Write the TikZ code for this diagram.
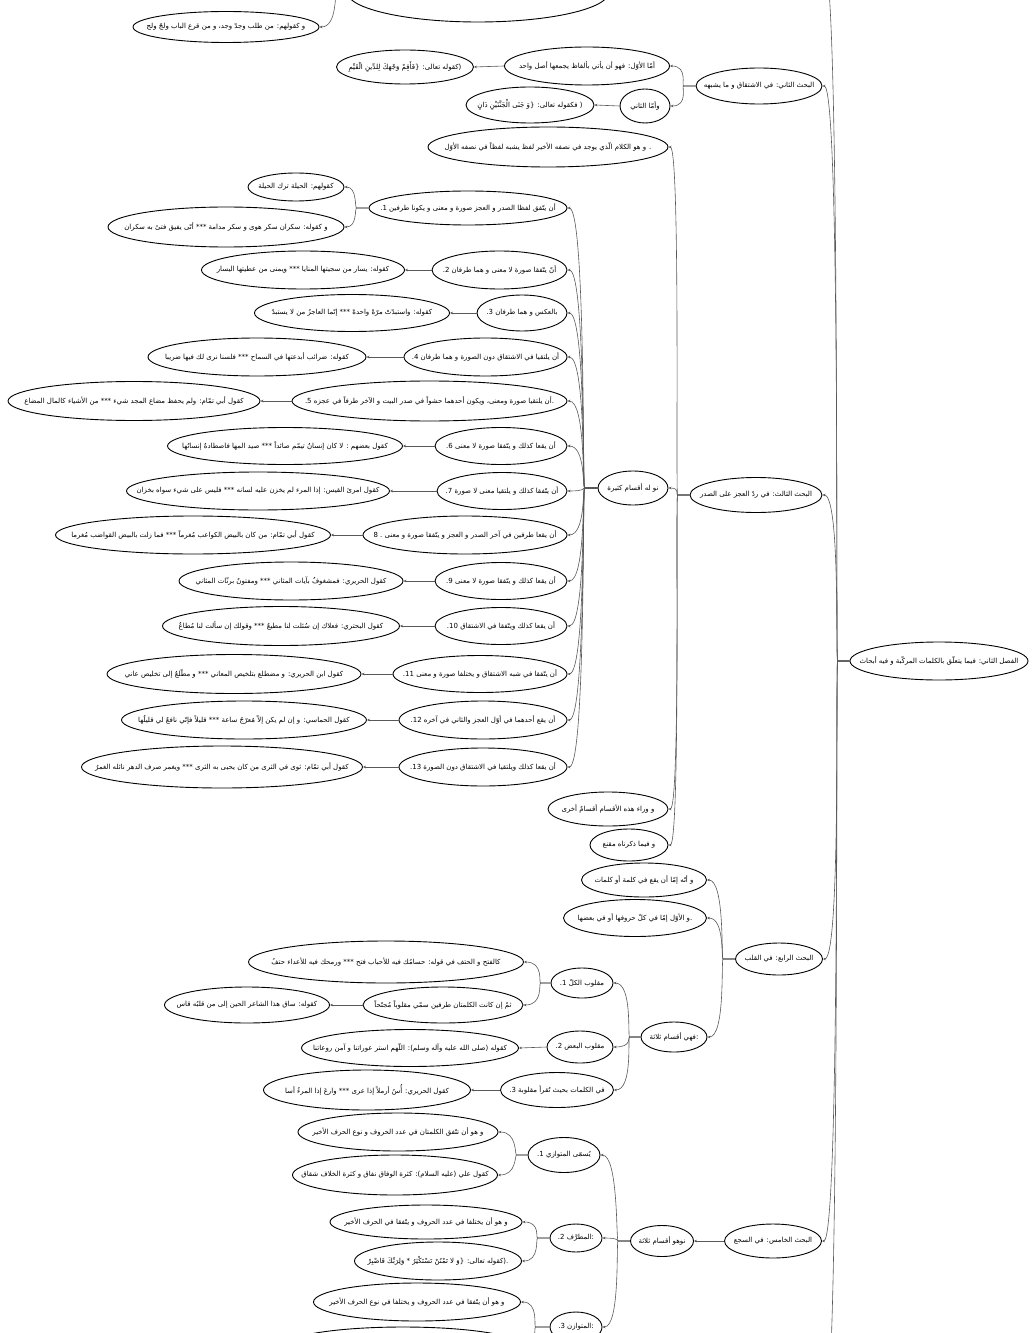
\documentclass[tikz,border=0pt]{standalone}
\usepackage{fontspec}
\newfontfamily\arabicfont[Script=Arabic]{DejaVu Sans}
\TeXXeTstate=1
\usetikzlibrary{arrows.meta,shapes.geometric}

\def\ar#1{\makebox[0pt]{\arabicfont\fontsize{7}{8}\selectfont\beginR #1\endR}}
\def\num#1{\beginL#1\endL}
\def\bend#1#2#3#4{(#1.west) -- ++(-#3,0) .. controls +(-2,0) and +(#4,0) .. (#2.east)}
\def\frame{(0,0) rectangle (1032,1333)}

\begin{document}
\begin{tikzpicture}[x=1bp, y=-1bp,
    bub/.style={ellipse, draw, line width=0.9bp, inner sep=0pt, minimum height=36bp},
    wd/.style={minimum width=#1bp},
    ht/.style={minimum height=#1bp},
    link/.style={draw=black!65, line width=0.6bp, -{Stealth[length=3bp,width=2.6bp]}}]
    \useasboundingbox \frame;
    \fill[white] \frame;
    \clip \frame;

    \node[bub, wd=178, ht=38] (root) at (939,661) {\ar{الفصل الثاني: فيما يتعلّق بالكلمات المركّبة و فيه أبحاث}};
    \coordinate (b1) at (822,-40);
    \coordinate (b6) at (822,1420);

    \node[bub, wd=126] (b2) at (759,86) {\ar{البحث الثاني: في الاشتقاق و ما يشبهه}};
    \node[bub, wd=165, ht=38] (a1) at (587,66) {\ar{أمّا الأوّل: فهو أن يأتي بألفاظ يجمعها أصل واحد}};
    \node[bub, wd=50, ht=34] (a2) at (645,106) {\ar{وأمّا الثاني}};
    \node[bub, wd=137, ht=34] (ex1) at (405,67) {\ar{(كقوله تعالى: \{فَأَقِمْ وَجْهَكَ لِلدِّينِ الْقَيِّمِ}};
    \node[bub, wd=128] (ex2) at (530,105) {\ar{( فكقوله تعالى: \{وَ جَنَى الْجَنَّتَيْنِ دَانٍ}};

    \node[bub, wd=262, ht=60] (top0) at (478,-8) {};
    \node[bub, wd=186, ht=31] (h0) at (226,27) {\ar{و كقولهم: من طلب وجدّ وجد، و من قرع الباب ولجّ ولج}};

    \node[bub, wd=132, ht=35] (b3) at (756,495) {\ar{البحث الثالث: في ردّ العجز على الصدر}};
    \node[bub, wd=240, ht=40] (c1) at (548,147) {\ar{. و هو الكلام الّذي يوجد في نصفه الأخير لفظ يشبه لفظاً في نصفه الأوّل}};
    \node[bub, wd=70, ht=34] (q3) at (633,488) {\ar{نو له أقسام كثيرة}};
    \node[bub, wd=120, ht=34] (o1) at (608,809) {\ar{و وراء هذه الأقسام أقسامٌ أخرى}};
    \node[bub, wd=78, ht=32] (o2) at (629,845) {\ar{و فيما ذكرناه مقنع}};

    \node[bub, wd=198, ht=34] (i1) at (468,208) {\ar{أن يتّفق لفظا الصدر و العجز صورة و معنى و يكونا طرفين \num{1.}}};
    \node[bub, wd=96, ht=28] (h1) at (296,187) {\ar{كقولهم: الحيلة ترك الحيلة}};
    \node[bub, wd=236, ht=40] (h2) at (226,227) {\ar{و كقوله: سكران سكر هوى و سكر مدامة *** أنّى يفيق فتىً به سكران}};
    \node[bub, wd=135, ht=38] (i2) at (499.5,270) {\ar{أنّ يتّفقا صورة لا معنى و هما طرفان \num{2.}}};
    \node[bub, wd=203, ht=38] (e2) at (303,270) {\ar{كقوله: يسار من سجيتها المنايا *** ويمنى من عطيتها اليسار}};
    \node[bub, wd=90] (i3) at (522,313) {\ar{بالعكس و هما طرفان \num{3.}}};
    \node[bub, wd=195, ht=37] (e3) at (352,313) {\ar{كقوله: واستبدّتْ مرّةً واحدةً *** إنّما العاجزُ من لا يستبدّ}};
    \node[bub, wd=163, ht=38] (i4) at (485.5,357) {\ar{أن يلتقيا في الاشتقاق دون الصورة و هما طرفان \num{4.}}};
    \node[bub, wd=218, ht=38] (e4) at (257,357) {\ar{كقوله: ضرائب أبدعتها في السماح *** فلسنا نرى لك فيها ضريبا}};
    \node[bub, wd=275, ht=40] (i5) at (429.5,401) {\ar{.أن يلتقيا صورة ومعنى، ويكون أحدهما حشواً في صدر البيت و الآخر طرفاً في عجزه \num{5.}}};
    \node[bub, wd=252, ht=39] (e5) at (134,401) {\ar{كقول أبي تمّام: ولم يحفظ مضاع المجد شيء *** من الأشياء كالمال المضاع}};
    \node[bub, wd=132, ht=37] (i6) at (501,446) {\ar{أن يقعا كذلك و يتّفقا صورة لا معنى \num{6.}}};
    \node[bub, wd=235, ht=37] (e6) at (285,446) {\ar{كقول بعضهم : لا كان إنسانٌ تيمّم صائداً *** صيد المها فاصطادهٌ إنسانُها}};
    \node[bub, wd=130, ht=37] (i7) at (502,491) {\ar{أن يتّفقا كذلك و يلتقيا معنى لا صورة \num{7.}}};
    \node[bub, wd=263, ht=38] (e7) at (258,491) {\ar{كقول امرئ القيس: إذا المرء لم يخزن عليه لسانه *** فليس على شيء سواه بخزان}};
    \node[bub, wd=204, ht=38] (i8) at (465,535) {\ar{أن يقعا طرفين في آخر الصدر و العجز و يتّفقا صورة و معنى \num{8 .}}};
    \node[bub, wd=275, ht=38] (e8) at (193,535) {\ar{كقول أبي تمّام: من كان بالبيض الكواعب مُغرماً *** فما زلت بالبيض القواضب مُغرما}};
    \node[bub, wd=132, ht=37] (i9) at (501,581) {\ar{أن يقعا كذلك و يتّفقا صورة لا معنى \num{9.}}};
    \node[bub, wd=224, ht=38] (e9) at (291,581) {\ar{كقول الحريري: فمشغوفٌ بآيات المثاني *** ومفتونٌ برنّات المثاني}};
    \node[bub, wd=132, ht=37] (i10) at (501,626) {\ar{أن يقعا كذلك ويتّفقا في الاشتقاق \num{10.}}};
    \node[bub, wd=237, ht=39] (e10) at (281,626) {\ar{كقول البحتري: فعلاك إن سُئلت لنا مطيعٌ *** وقولك إن سألت لنا مُطاعٌ}};
    \node[bub, wd=174, ht=37] (i11) at (480,674) {\ar{أن يتّفقا في شبه الاشتقاق و يختلفا صورة و معنى \num{11.}}};
    \node[bub, wd=254, ht=39] (e11) at (234,674) {\ar{كقول ابن الحريري: و مضطلع بتلخيص المعاني *** و مطّلعٌ إلى تخليص عاني}};
    \node[bub, wd=168, ht=38] (i12) at (483,720) {\ar{أن يقع أحدهما في أوّل العجز والثاني في آخره \num{12.}}};
    \node[bub, wd=245, ht=38] (e12) at (244,720) {\ar{كقول الحماسي: و إن لم يكن إلاّ مُعرّجُ ساعة *** قليلاً فإنّي نافعٌ لي قليلُها}};
    \node[bub, wd=168, ht=38] (i13) at (483,767) {\ar{أن يقعا كذلك ويلتقيا في الاشتقاق دون الصورة \num{13.}}};
    \node[bub, wd=281, ht=42] (e13) at (222,767) {\ar{كقول أبي تمّام: ثوى في الثرى من كان يحيى به الثرى *** ويغمر صرف الدهر نائله الغمرُ}};

    \node[bub, wd=87, ht=32] (b4) at (779,959) {\ar{البحث الرابع: في القلب}};
    \node[bub, wd=125, ht=34] (r1) at (644,880) {\ar{و أنّه إمّا أن يقع في كلمة أو كلمات}};
    \node[bub, wd=143, ht=37] (r2) at (635,918) {\ar{.و الأوّل إمّا في كلّ حروفها أو في بعضها}};
    \node[bub, wd=66, ht=30] (q4) at (674,1037) {\ar{:فهي أقسام ثلاثة}};
    \node[bub, wd=62, ht=30] (k1) at (582,983) {\ar{مقلوب الكلّ \num{1.}}};
    \node[bub, wd=275, ht=42] (x1) at (386,962) {\ar{كالفتح و الحتف في قوله: حسامُك فيه للأحباب فتح *** ورمحك فيه للأعداء حتفُ}};
    \node[bub, wd=160] (x2) at (443,1005) {\ar{ثمّ إن كانت الكلمتان طرفين سمّي مقلوباً مُجنّحاً}};
    \node[bub, wd=165] (x3) at (247,1005) {\ar{كقوله: ساق هذا الشاعر الحين إلى من قلبُه قاس}};
    \node[bub, wd=66, ht=32] (k2) at (580,1047) {\ar{مقلوب البعض \num{2.}}};
    \node[bub, wd=217, ht=37] (x4) at (410,1048) {\ar{كقوله (صلى الله عليه وآله وسلم): اللّهم استر عوراتنا و آمن روعاتنا}};
    \node[bub, wd=113, ht=35] (k3) at (557,1090) {\ar{في الكلمات بحيث تُقرأ مقلوبة \num{3.}}};
    \node[bub, wd=207, ht=40] (x5) at (367,1090) {\ar{كقول الحريري: أُسُ أرملاً إذا عرى *** وارعَ إذا المرءُ أسا}};

    \node[bub, wd=97, ht=34] (b5) at (773,1241) {\ar{البحث الخامس: في السجع}};
    \node[bub, wd=63, ht=31] (q5) at (662,1241) {\ar{نوهو أقسام ثلاثة}};
    \node[bub, wd=72, ht=35] (s1) at (564,1155) {\ar{يُسمّى المتوازي \num{1.}}};
    \node[bub, wd=200, ht=38] (t1) at (398,1132) {\ar{و هو أن تتّفق الكلمتان في عدد الحروف و نوع الحرف الأخير}};
    \node[bub, wd=205, ht=40] (t2) at (395,1175) {\ar{كقول علي (عليه السلام): كثرة الوفاق نفاق و كثرة الخلاف شقاق}};
    \node[bub, wd=52, ht=28] (s2) at (576,1238) {\ar{:المطرَّف \num{2.}}};
    \node[bub, wd=192, ht=34] (u1) at (426,1222) {\ar{و هو أن يختلفا في عدد الحروف و يتّفقا في الحرف الأخير}};
    \node[bub, wd=167, ht=38] (u2) at (438,1261) {\ar{.(كقوله تعالى: \{وَ لا تَمْنُنْ تَسْتَكْثِرُ * وَلِرَبِّكَ فَاصْبِرْ}};
    \node[bub, wd=52, ht=30] (s3) at (576,1327) {\ar{:المتوازن \num{3.}}};
    \node[bub, wd=207, ht=38] (v1) at (417,1302) {\ar{و هو أن يتّفقا في عدد الحروف و يختلفا في نوع الحرف الأخير}};
    \node[bub, wd=234] (v2) at (403,1345) {};

    \draw[link] (root.west) -- ++(-12,0) .. controls +(-2,0) and +(18,0) .. (b1);
    \draw[link] \bend{root}{b2}{12}{18};
    \draw[link] \bend{root}{b3}{12}{18};
    \draw[link] \bend{root}{b4}{12}{18};
    \draw[link] \bend{root}{b5}{12}{18};
    \draw[link] (root.west) -- ++(-12,0) .. controls +(-2,0) and +(18,0) .. (b6);

    \draw[link] \bend{b2}{a1}{12}{18};
    \draw[link] \bend{b2}{a2}{12}{18};
    \draw[link] (a1.west) -- (ex1.east);
    \draw[link] (a2.west) -- (ex2.east);
    \draw[link] \bend{top0}{h0}{10}{18};

    \draw[link] \bend{b3}{c1}{12}{12};
    \draw[link] \bend{b3}{q3}{12}{12};
    \draw[link] \bend{b3}{o1}{12}{12};
    \draw[link] \bend{b3}{o2}{12}{12};

    \draw[link] \bend{q3}{i1}{13}{18};
    \draw[link] \bend{q3}{i2}{13}{18};
    \draw[link] \bend{q3}{i3}{13}{18};
    \draw[link] \bend{q3}{i4}{13}{18};
    \draw[link] \bend{q3}{i5}{13}{18};
    \draw[link] \bend{q3}{i6}{13}{18};
    \draw[link] \bend{q3}{i7}{13}{18};
    \draw[link] \bend{q3}{i8}{13}{18};
    \draw[link] \bend{q3}{i9}{13}{18};
    \draw[link] \bend{q3}{i10}{13}{18};
    \draw[link] \bend{q3}{i11}{13}{18};
    \draw[link] \bend{q3}{i12}{13}{18};
    \draw[link] \bend{q3}{i13}{13}{18};

    \draw[link] \bend{i1}{h1}{12}{13};
    \draw[link] \bend{i1}{h2}{12}{13};
    \draw[link] (i2.west) -- (e2.east);
    \draw[link] (i3.west) -- (e3.east);
    \draw[link] (i4.west) -- (e4.east);
    \draw[link] (i5.west) -- (e5.east);
    \draw[link] (i6.west) -- (e6.east);
    \draw[link] (i7.west) -- (e7.east);
    \draw[link] (i8.west) -- (e8.east);
    \draw[link] (i9.west) -- (e9.east);
    \draw[link] (i10.west) -- (e10.east);
    \draw[link] (i11.west) -- (e11.east);
    \draw[link] (i12.west) -- (e12.east);
    \draw[link] (i13.west) -- (e13.east);

    \draw[link] \bend{b4}{r1}{12}{18};
    \draw[link] \bend{b4}{r2}{12}{18};
    \draw[link] \bend{b4}{q4}{12}{18};
    \draw[link] \bend{q4}{k1}{11}{19};
    \draw[link] \bend{q4}{k2}{11}{19};
    \draw[link] \bend{q4}{k3}{11}{19};
    \draw[link] \bend{k1}{x1}{10}{20};
    \draw[link] \bend{k1}{x2}{10}{20};
    \draw[link] (x2.west) -- (x3.east);
    \draw[link] (k2.west) -- (x4.east);
    \draw[link] (k3.west) -- (x5.east);

    \draw[link] (b5.west) -- (q5.east);
    \draw[link] \bend{q5}{s1}{12}{18};
    \draw[link] \bend{q5}{s2}{12}{18};
    \draw[link] \bend{q5}{s3}{12}{18};
    \draw[link] \bend{s1}{t1}{11}{19};
    \draw[link] \bend{s1}{t2}{11}{19};
    \draw[link] \bend{s2}{u1}{12}{18};
    \draw[link] \bend{s2}{u2}{12}{18};
    \draw[link] \bend{s3}{v1}{14}{18};
    \draw[link] \bend{s3}{v2}{14}{18};
\end{tikzpicture}
\end{document}
